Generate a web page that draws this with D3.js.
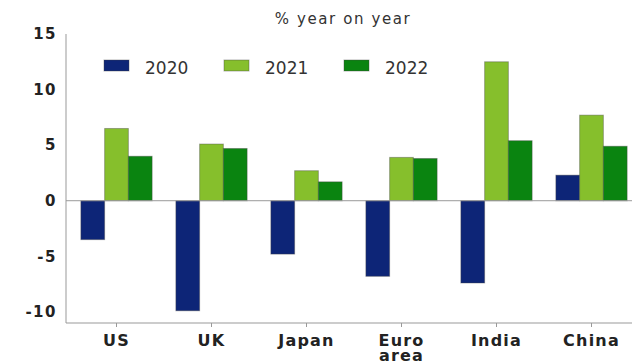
<!DOCTYPE html>
<html>
<head>
<meta charset="utf-8">
<script src="https://cdn.jsdelivr.net/npm/d3@7"></script>
<style>
  html, body { margin: 0; padding: 0; background: #fff; }
  svg { display: block; }
</style>
</head>
<body>
<svg id="chart" width="635" height="363"></svg>
<script>
// Real GDP growth by economy
const categories = ["US", "UK", "Japan", "Euro area", "India", "China"];
const seriesNames = ["2020", "2021", "2022"];
const values2020 = [-3.5, -9.9, -4.8, -6.8, -7.4, 2.3];
const values2021 = [6.5, 5.1, 2.7, 3.9, 12.5, 7.7];
const values2022 = [4.0, 4.7, 1.7, 3.8, 5.4, 4.9];
const yTicks = [15, 10, 5, 0, -5, -10];
const colors = ["#0d2577", "#86bf2c", "#0a8410"];

const series = [values2020, values2021, values2022];
const FONT = "DejaVu Sans, Verdana, sans-serif";

const svg = d3.select("#chart");
const plotLeft = 66, axisEnd = 632, plotTop = 34, plotBottom = 323;

const x0 = d3.scaleBand().domain(categories).range([69, 639]).paddingInner(0.25).paddingOuter(0.125);
const x1 = d3.scaleBand().domain(seriesNames).range([0, x0.bandwidth()]);
const y = d3.scaleLinear().domain([-11, 15]).range([plotBottom, plotTop]);

// title
svg.append("text")
  .attr("x", 343).attr("y", 24)
  .attr("text-anchor", "middle")
  .attr("font-family", FONT)
  .attr("font-size", 15)
  .attr("letter-spacing", 1.6)
  .attr("fill", "#333")
  .text("% year on year");

// bars
const groups = svg.append("g").selectAll("g")
  .data(categories)
  .join("g")
  .attr("transform", d => `translate(${x0(d)},0)`);

groups.selectAll("rect")
  .data((c, i) => seriesNames.map((s, k) => ({ s, k, v: series[k][i] })))
  .join("rect")
  .attr("x", d => x1(d.s))
  .attr("width", x1.bandwidth())
  .attr("y", d => y(Math.max(0, d.v)))
  .attr("height", d => Math.abs(y(d.v) - y(0)))
  .attr("fill", d => colors[d.k])
  .attr("stroke", "#444")
  .attr("stroke-opacity", 0.4)
  .attr("stroke-width", 1);

// zero line
svg.append("line")
  .attr("x1", plotLeft).attr("x2", axisEnd)
  .attr("y1", y(0)).attr("y2", y(0))
  .attr("stroke", "#999").attr("stroke-width", 1);

// y axis
const yAxis = d3.axisLeft(y).tickValues(yTicks).tickFormat(d => String(d)).tickSize(0).tickPadding(9);
const gy = svg.append("g").attr("transform", `translate(${plotLeft},0)`).call(yAxis);
gy.select(".domain").attr("stroke", "#999").attr("d", `M0,${plotTop}V${plotBottom}`);
gy.selectAll("text")
  .attr("font-family", FONT)
  .attr("font-weight", "bold")
  .attr("font-size", 15)
  .attr("letter-spacing", 1.5)
  .attr("fill", "#222");

// x axis at bottom
const xAxis = d3.axisBottom(x0).tickSize(4).tickSizeOuter(0).tickPadding(6);
const gx = svg.append("g").attr("transform", `translate(0,${plotBottom})`).call(xAxis);
gx.select(".domain").attr("stroke", "#999").attr("d", `M${plotLeft},0H${axisEnd}`);
gx.selectAll(".tick line").attr("stroke", "#999");
gx.selectAll("text").remove();
gx.selectAll(".tick").each(function(d) {
  const words = d.split(" ");
  const t = d3.select(this).append("text")
    .attr("text-anchor", "middle")
    .attr("font-family", FONT)
    .attr("font-weight", "bold")
    .attr("font-size", 16)
    .attr("letter-spacing", 1.2)
    .attr("fill", "#222");
  words.forEach((w, i) => {
    t.append("tspan").attr("x", 0).attr("y", 22.5 + i * 15).text(w);
  });
});

// legend
const legendX = [104, 224, 344];
const lg = svg.append("g");
seriesNames.forEach((s, k) => {
  lg.append("rect")
    .attr("x", legendX[k]).attr("y", 60)
    .attr("width", 25).attr("height", 11)
    .attr("fill", colors[k])
    .attr("stroke", "#444").attr("stroke-opacity", 0.4);
  lg.append("text")
    .attr("x", legendX[k] + 41).attr("y", 74)
    .attr("font-family", FONT)
    .attr("font-size", 17)
    .attr("fill", "#333")
    .text(s);
});
</script>
</body>
</html>
